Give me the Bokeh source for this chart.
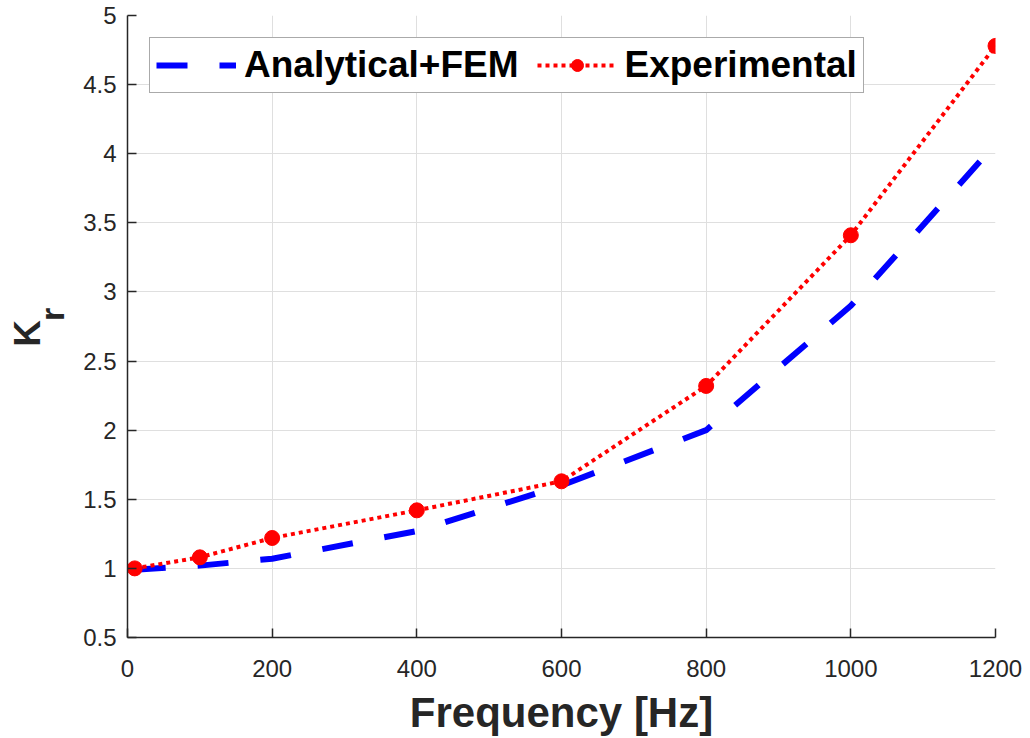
from bokeh.plotting import figure
from bokeh.models import (Range1d, Legend, LegendItem, Label, FixedTicker,
                          ColumnDataSource, CustomJSTickFormatter)
from bokeh.embed import file_html
from bokeh.resources import INLINE
from math import pi

# ---- data ----
freq_fem = [10, 100, 200, 400, 600, 800, 1000, 1200]
kr_fem = [0.99, 1.02, 1.07, 1.27, 1.60, 2.00, 2.90, 4.07]
freq_exp = [10, 100, 200, 400, 600, 800, 1000, 1200]
kr_exp = [1.00, 1.08, 1.22, 1.42, 1.63, 2.32, 3.41, 4.78]
x_ticks = [0, 200, 400, 600, 800, 1000, 1200]
y_ticks = [0.5, 1, 1.5, 2, 2.5, 3, 3.5, 4, 4.5, 5]
label_fem = "Analytical+FEM"
label_exp = "Experimental"
x_title = "Frequency [Hz]"
y_title_main = "K"
y_title_sub = "r"

FONT = "Liberation Sans"
AXC = "#262626"

p = figure(width=1030, height=738, output_backend="svg", toolbar_location=None,
           x_range=Range1d(0, 1200), y_range=Range1d(0.5, 5),
           min_border_left=127, min_border_right=35, min_border_top=15,
           min_border_bottom=101)
p.outline_line_color = None
p.background_fill_color = "white"
p.border_fill_color = "white"

src_fem = ColumnDataSource(dict(x=freq_fem, y=kr_fem))
src_exp = ColumnDataSource(dict(x=freq_exp, y=kr_exp))

r_fem = p.line("x", "y", source=src_fem, line_color="#0000ff", line_width=6,
               line_dash="31 32", line_cap="butt")
r_exp_l = p.line("x", "y", source=src_exp, line_color="#ff0000", line_width=4,
                 line_dash="4 4")
r_exp_m = p.scatter("x", "y", source=src_exp, size=15, marker="circle",
                    fill_color="#ff0000", line_color="#ff0000")

for ax in (p.xaxis[0], p.yaxis[0]):
    ax.axis_line_color = AXC
    ax.axis_line_width = 1.5
    ax.major_tick_line_color = AXC
    ax.major_tick_line_width = 1.5
    ax.major_tick_in = 9
    ax.major_tick_out = 0
    ax.minor_tick_line_color = None
    ax.major_label_text_font = FONT
    ax.major_label_text_font_size = "24px"
    ax.major_label_text_color = AXC
    ax.axis_label_text_font = FONT
    ax.axis_label_text_font_style = "bold"
    ax.axis_label_text_color = AXC

p.xaxis.ticker = FixedTicker(ticks=x_ticks)
p.yaxis.ticker = FixedTicker(ticks=y_ticks)
p.xaxis.formatter = CustomJSTickFormatter(code="return String(tick);")
p.yaxis.formatter = CustomJSTickFormatter(code="return String(tick);")
p.xaxis.major_label_standoff = 22
p.yaxis.major_label_standoff = 11
p.xaxis.axis_label = x_title
p.xaxis.axis_label_text_font_size = "42px"
p.xaxis.axis_label_standoff = 9

p.xgrid.ticker = FixedTicker(ticks=x_ticks)
p.ygrid.ticker = FixedTicker(ticks=y_ticks)
for g in (p.xgrid[0], p.ygrid[0]):
    g.grid_line_color = "#dfdfdf"
    g.grid_line_width = 1

# y title: subscript r (next to the axis) and K (outer), in the left side panel
p.add_layout(Label(x=9, y=323, x_units="screen", y_units="screen",
                   text=y_title_sub, angle=pi / 2,
                   text_font=FONT, text_font_style="bold", text_font_size="34px",
                   text_color=AXC, text_align="center", text_baseline="middle"),
             "left")
p.add_layout(Label(x=26, y=304, x_units="screen", y_units="screen",
                   text=y_title_main, angle=pi / 2,
                   text_font=FONT, text_font_style="bold", text_font_size="37px",
                   text_color=AXC, text_align="center", text_baseline="middle"),
             "left")

legend = Legend(items=[LegendItem(label=label_fem, renderers=[r_fem]),
                       LegendItem(label=label_exp, renderers=[r_exp_l, r_exp_m])],
                location="top_left", orientation="horizontal", margin=22,
                padding=6, spacing=18, label_standoff=8,
                glyph_width=80, glyph_height=30,
                label_text_font=FONT, label_text_font_style="bold",
                label_text_font_size="37px", label_text_color="black",
                border_line_color="#555555", border_line_width=1.5,
                background_fill_color="white", background_fill_alpha=1)
p.add_layout(legend, "center")

open("out.html", "w").write(file_html(p, INLINE))
